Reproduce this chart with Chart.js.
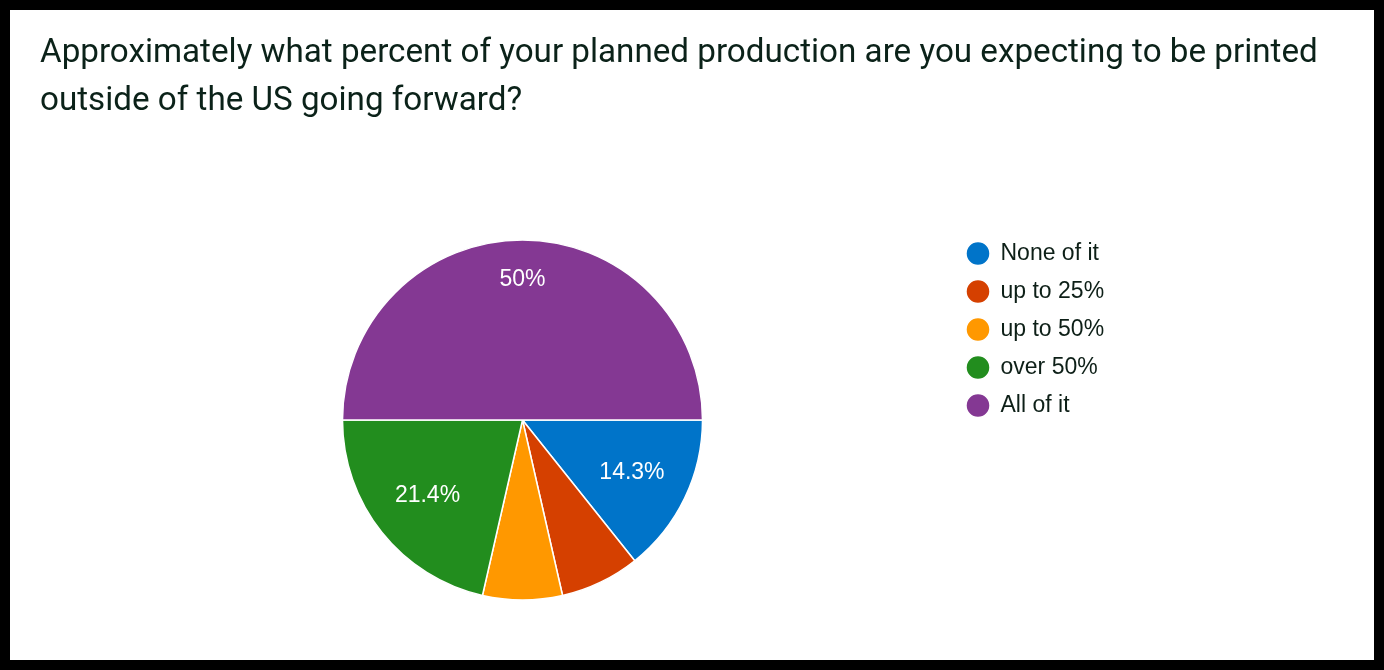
<!DOCTYPE html>
<html>
<head>
<meta charset="utf-8">
<script src="https://cdn.jsdelivr.net/npm/chart.js@4.4.1/dist/chart.umd.min.js"></script>
<style>
  html, body { margin: 0; padding: 0; background: #000; }
  body { width: 1384px; height: 670px; position: relative; overflow: hidden; }
  #card { position: absolute; left: 10px; top: 10px; width: 1364px; height: 650px; background: #fff; }
  #title { position: absolute; left: 30px; top: 17px; width: 1330px; font-family: Roboto, sans-serif;
           font-size: 33.2px; line-height: 48px; color: #0b2219; font-weight: 400; white-space: nowrap; }
  #wrap { position: absolute; left: 0; top: 0; width: 1364px; height: 650px; }
</style>
</head>
<body>
<div id="card">
  <div id="wrap"><canvas id="c"></canvas></div>
  <div id="title">Approximately what percent of your planned production are you expecting to be printed<br>outside of the US going forward?</div>
</div>
<script>
const categories = ['None of it', 'up to 25%', 'up to 50%', 'over 50%', 'All of it'];
const responses = [2, 1, 1, 3, 7];
const sliceColors = ['#0074c9', '#d54000', '#ff9800', '#228d1e', '#843893'];

const total = responses.reduce((a, b) => a + b, 0);
function pctText(v) {
  const p = v / total * 100;
  const s = p.toFixed(1);
  return (s.endsWith('.0') ? s.slice(0, -2) : s) + '%';
}

const sliceLabels = {
  id: 'sliceLabels',
  afterDatasetsDraw(chart) {
    const ctx = chart.ctx;
    const meta = chart.getDatasetMeta(0);
    ctx.save();
    ctx.fillStyle = '#ffffff';
    ctx.font = '23px "Liberation Sans", Arial, sans-serif';
    ctx.textAlign = 'center';
    ctx.textBaseline = 'middle';
    meta.data.forEach((arc, i) => {
      const v = responses[i];
      const p = v / total * 100;
      if (p < 10) return;
      const {x, y, startAngle, endAngle, outerRadius} = arc.getProps(['x', 'y', 'startAngle', 'endAngle', 'outerRadius'], true);
      const mid = (startAngle + endAngle) / 2;
      const r = outerRadius * (p >= 40 ? 0.78 : 0.675);
      ctx.fillText(pctText(v), x + Math.cos(mid) * r, y + Math.sin(mid) * r);
    });
    ctx.restore();
  }
};

const chart = new Chart(document.getElementById('c'), {
  type: 'pie',
  data: {
    labels: categories,
    datasets: [{
      data: responses,
      backgroundColor: sliceColors,
      borderColor: '#ffffff',
      borderWidth: 1.5,
      radius: 180
    }]
  },
  options: {
    responsive: true,
    maintainAspectRatio: false,
    animation: false,
    events: [],
    rotation: 90,
    layout: { padding: { left: 83, top: 217, bottom: 47, right: 240 } },
    plugins: {
      title: { display: false },
      tooltip: { enabled: false },
      legend: {
        display: true,
        position: 'right',
        align: 'start',
        labels: {
          usePointStyle: true,
          pointStyle: 'circle',
          boxWidth: 22,
          boxHeight: 17,
          padding: 15,
          color: '#0d1f17',
          font: { family: '"Liberation Sans", Arial, sans-serif', size: 23 }
        }
      }
    }
  },
  plugins: [sliceLabels]
});
// keep the legend's left edge at a fixed spot so the pie centre stays put
const lw = chart.legend.width;
chart.options.layout.padding.right = 422 - lw;
chart.update();
</script>
</body>
</html>
